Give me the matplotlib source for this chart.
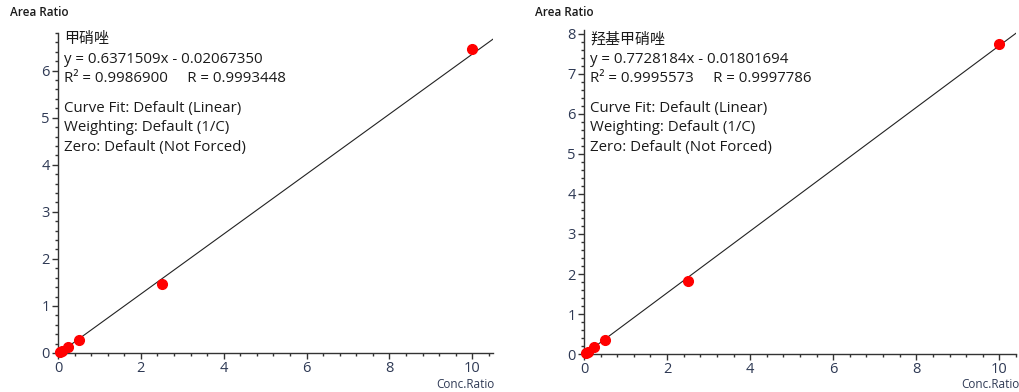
import matplotlib
matplotlib.use("Agg")
import matplotlib.pyplot as plt
import numpy as np
from matplotlib.ticker import MultipleLocator

plt.rcParams['font.family'] = ['Open Sans', 'Noto Sans CJK SC', 'DejaVu Sans']

# Data
conc = [0.05, 0.1, 0.25, 0.5, 2.5, 10]
area_left = [0.02, 0.05, 0.13, 0.27, 1.47, 6.46]
area_right = [0.03, 0.06, 0.17, 0.36, 1.82, 7.75]
names = ["甲硝唑", "羟基甲硝唑"]
slopes = [0.6371509, 0.7728184]
intercepts = [-0.02067350, -0.01801694]
eq_text = ["y = 0.6371509x - 0.02067350", "y = 0.7728184x - 0.01801694"]
r_text = ["R² = 0.9986900     R = 0.9993448", "R² = 0.9995573     R = 0.9997786"]
info_lines = ["Curve Fit: Default (Linear)", "Weighting: Default (1/C)", "Zero: Default (Not Forced)"]
x_ticks = [0, 2, 4, 6, 8, 10]

W, H = 1020, 392
fig = plt.figure(figsize=(W / 100, H / 100), dpi=100)

tick_col = '#2f3a55'
text_col = '#1a1a1a'

panels = [
    dict(rect=[58 / W, 39 / H, 435 / W, 320 / H], ylim=(0, 6.8), xlim=(0, 10.5),
         yticks=[0, 1, 2, 3, 4, 5, 6], y=area_left, ylab_x=10, xlab_x=465),
    dict(rect=[584 / W, 38 / H, 432 / W, 324 / H], ylim=(0, 8.1), xlim=(0, 10.4),
         yticks=[0, 1, 2, 3, 4, 5, 6, 7, 8], y=area_right, ylab_x=535, xlab_x=990),
]

for i, p in enumerate(panels):
    ax = fig.add_axes(p['rect'])
    ax.set_xlim(*p['xlim'])
    ax.set_ylim(*p['ylim'])
    for s in ['top', 'right']:
        ax.spines[s].set_visible(False)
    for s in ['left', 'bottom']:
        ax.spines[s].set_linewidth(1.0)
        ax.spines[s].set_color('#333333')
    ax.set_xticks(x_ticks)
    ax.set_yticks(p['yticks'])
    ax.xaxis.set_minor_locator(MultipleLocator(0.4))
    ax.yaxis.set_minor_locator(MultipleLocator(0.2))
    ax.tick_params(which='major', length=4, width=1, colors='#333333',
                   labelcolor=tick_col, labelsize=10.5, pad=2)
    ax.tick_params(which='minor', length=2, width=1, colors='#333333')

    # fit line
    lx = np.array([0, p['xlim'][1]])
    ax.plot(lx, slopes[i] * lx + intercepts[i], color='#222222', lw=0.8, zorder=2)
    # points
    ax.plot(conc, p['y'], 'o', color='#ff0000', markersize=7, zorder=3, clip_on=False)

    # annotation text
    t0 = ax.transAxes
    x0 = 6 / p['rect'][2] / W
    lines = [(names[i], 0), (eq_text[i], 1), (r_text[i], 2),
             (info_lines[0], 3.5), (info_lines[1], 4.5), (info_lines[2], 5.5)]
    for txt, k in lines:
        ypix = H - (40 + k * 19.5)  # from bottom
        yfrac = (ypix - p['rect'][1] * H) / (p['rect'][3] * H)
        ax.text(x0, yfrac, txt, transform=t0, fontsize=10.8, color=text_col,
                va='center', ha='left')

    fig.text(p['ylab_x'] / W, 1 - 13 / H, "Area Ratio", fontsize=8.5, color=text_col,
             ha='left', va='center', fontweight='semibold')
    fig.text(p['xlab_x'] / W, 1 - 384 / H, "Conc.Ratio", fontsize=8.5, color=tick_col,
             ha='center', va='center')

fig.savefig("out.png", dpi=100)
